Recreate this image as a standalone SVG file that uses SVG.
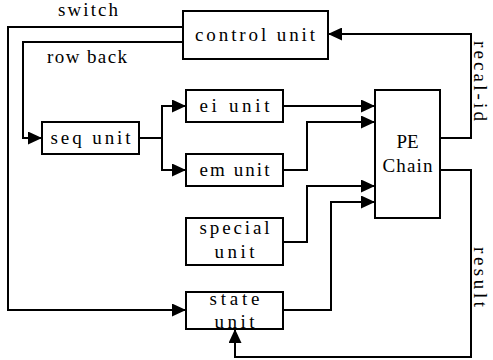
<svg xmlns="http://www.w3.org/2000/svg" width="493" height="360" viewBox="0 0 493 360">
<style>
  .box { fill: #fff; stroke: #000; stroke-width: 2; }
  .lbl { font-family: "Liberation Serif", "DejaVu Serif", serif; font-size: 19px; fill: #000; }
  .c { text-anchor: middle; }
  .wire { fill: none; stroke: #000; stroke-width: 2; }
  .arr { marker-end: url(#ah); }
</style>
<defs>
  <marker id="ah" markerUnits="userSpaceOnUse" markerWidth="14" markerHeight="13" refX="14" refY="6.5" orient="auto">
    <path d="M0,0 L14,6.5 L0,13 z" fill="#000"/>
  </marker>
</defs>
<rect width="493" height="360" fill="#fff"/>
<g id="connectors">
  <path class="wire arr" d="M183,27 H8 V310 H186"/>
  <path class="wire arr" d="M183,42 H23 V138 H42"/>
  <path class="wire arr" d="M139,138 H162 V106 H186"/>
  <path class="wire arr" d="M162,138 V170 H186"/>
  <path class="wire arr" d="M283,106 H375"/>
  <path class="wire arr" d="M283,170 H307 V122 H375"/>
  <path class="wire arr" d="M283,242 H307 V186 H375"/>
  <path class="wire arr" d="M283,310 H331 V202 H375"/>
  <path class="wire arr" d="M440,138 H471 V34 H328"/>
  <path class="wire arr" d="M440,170 H471 V357 H235 V329"/>
  <text class="lbl" x="58" y="16" textLength="60" lengthAdjust="spacing">switch</text>
  <text class="lbl" x="47" y="63" textLength="80" lengthAdjust="spacing">row back</text>
  <text class="lbl" transform="translate(474,41) rotate(90)" textLength="80" lengthAdjust="spacing">recal-id</text>
  <text class="lbl" transform="translate(474,247) rotate(90)" textLength="60" lengthAdjust="spacing">result</text>
</g>
<g id="control-unit">
  <rect class="box" x="183" y="11" width="145" height="48"/>
  <text class="lbl c" x="255" y="41" textLength="120" lengthAdjust="spacing">control unit</text>
</g>
<g id="seq-unit">
  <rect class="box" x="42" y="122" width="97" height="32"/>
  <text class="lbl c" x="90.5" y="144" textLength="80" lengthAdjust="spacing">seq unit</text>
</g>
<g id="ei-unit">
  <rect class="box" x="186" y="90" width="97" height="32"/>
  <text class="lbl c" x="234.5" y="112" textLength="70" lengthAdjust="spacing">ei unit</text>
</g>
<g id="em-unit">
  <rect class="box" x="186" y="154" width="97" height="32"/>
  <text class="lbl c" x="234.5" y="176" textLength="70" lengthAdjust="spacing">em unit</text>
</g>
<g id="special-unit">
  <rect class="box" x="186" y="218" width="97" height="47"/>
  <text class="lbl c" x="234.5" y="234" textLength="70" lengthAdjust="spacing">special</text>
  <text class="lbl c" x="234.5" y="258" textLength="40" lengthAdjust="spacing">unit</text>
</g>
<g id="state-unit">
  <rect class="box" x="186" y="292" width="97" height="37"/>
  <text class="lbl c" x="234.5" y="305" textLength="50" lengthAdjust="spacing">state</text>
  <text class="lbl c" x="234.5" y="328" textLength="40" lengthAdjust="spacing">unit</text>
</g>
<g id="pe-chain">
  <rect class="box" x="375" y="90" width="65" height="128"/>
  <text class="lbl c" x="407.5" y="148">PE</text>
  <text class="lbl c" x="407.5" y="172" textLength="50" lengthAdjust="spacing">Chain</text>
</g>
</svg>
